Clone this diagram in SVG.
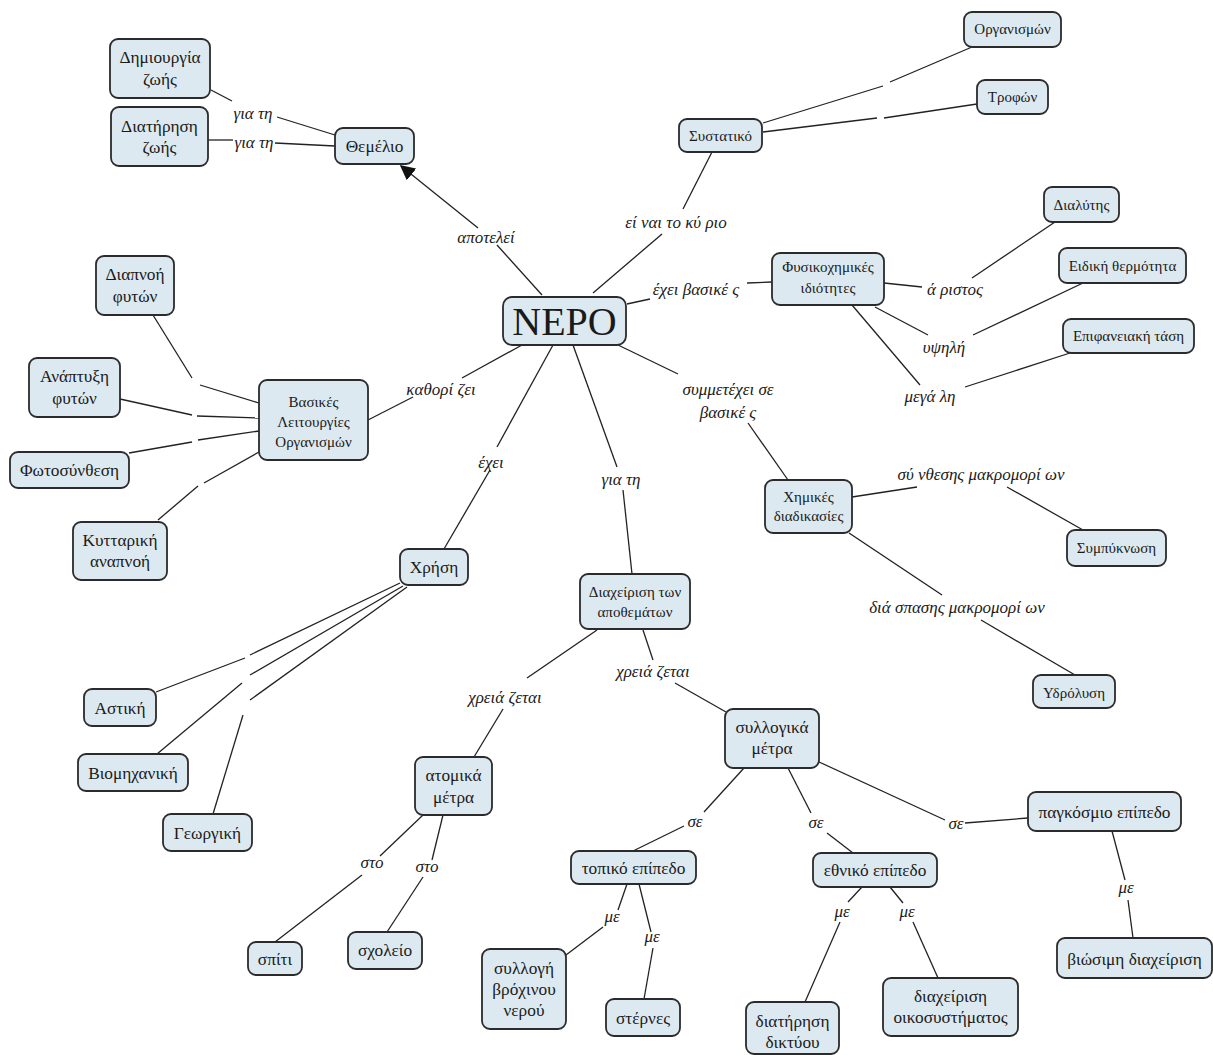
<svg xmlns="http://www.w3.org/2000/svg" width="1213" height="1055" viewBox="0 0 1213 1055">
<style>
.n rect{fill:#dde9f0;stroke:#2b2b2b;stroke-width:1.8}
.n text{font-family:"Liberation Serif",serif;font-size:15px;fill:#1a1a1a;text-anchor:middle}
.n.b text{font-size:17.3px}
.l{font-family:"Liberation Serif",serif;font-size:17px;font-style:italic;fill:#1a1a1a;text-anchor:middle}
#connectors line{stroke:#222;stroke-width:1.3}
</style>
<defs>
<marker id="arr" viewBox="0 0 10 10" refX="9" refY="5" markerWidth="15" markerHeight="15" markerUnits="userSpaceOnUse" orient="auto">
<path d="M0,0 L10,5 L0,10 z" fill="#111"/>
</marker>
</defs>
<rect width="1213" height="1055" fill="#fff"/>
<g id="connectors">
<line x1="542" y1="295" x2="497" y2="245"/>
<line x1="478" y1="228" x2="401" y2="166" marker-end="url(#arr)"/>
<line x1="335" y1="135" x2="277" y2="117"/>
<line x1="232" y1="101" x2="211" y2="90"/>
<line x1="335" y1="146" x2="275" y2="143"/>
<line x1="233" y1="140" x2="208" y2="140"/>
<line x1="593" y1="293" x2="662" y2="234"/>
<line x1="683" y1="209" x2="712" y2="152"/>
<line x1="763" y1="123" x2="883" y2="86"/>
<line x1="890" y1="82" x2="972" y2="47"/>
<line x1="763" y1="132" x2="877" y2="118"/>
<line x1="884" y1="118" x2="977" y2="104"/>
<line x1="627" y1="304" x2="650" y2="299"/>
<line x1="747" y1="283" x2="772" y2="282"/>
<line x1="884" y1="283" x2="922" y2="287"/>
<line x1="972" y1="278" x2="1055" y2="222"/>
<line x1="875" y1="307" x2="928" y2="335"/>
<line x1="973" y1="335" x2="1083" y2="283"/>
<line x1="852" y1="305" x2="920" y2="385"/>
<line x1="965" y1="387" x2="1070" y2="353"/>
<line x1="522" y1="345" x2="462" y2="378"/>
<line x1="413" y1="397" x2="368" y2="420"/>
<line x1="153" y1="315" x2="192" y2="378"/>
<line x1="200" y1="385" x2="259" y2="403"/>
<line x1="120" y1="399" x2="192" y2="415"/>
<line x1="197" y1="416" x2="259" y2="418"/>
<line x1="129" y1="453" x2="192" y2="442"/>
<line x1="198" y1="440" x2="259" y2="431"/>
<line x1="158" y1="520" x2="198" y2="486"/>
<line x1="204" y1="483" x2="259" y2="452"/>
<line x1="553" y1="345" x2="497" y2="447"/>
<line x1="490" y1="470" x2="444" y2="549"/>
<line x1="400" y1="583" x2="250" y2="655"/>
<line x1="245" y1="658" x2="156" y2="692"/>
<line x1="403" y1="586" x2="250" y2="675"/>
<line x1="242" y1="683" x2="157" y2="754"/>
<line x1="407" y1="587" x2="250" y2="700"/>
<line x1="243" y1="715" x2="213" y2="814"/>
<line x1="573" y1="345" x2="617" y2="467"/>
<line x1="623" y1="490" x2="632" y2="574"/>
<line x1="597" y1="630" x2="527" y2="678"/>
<line x1="503" y1="709" x2="474" y2="757"/>
<line x1="643" y1="630" x2="653" y2="660"/>
<line x1="675" y1="683" x2="726" y2="712"/>
<line x1="423" y1="815" x2="380" y2="856"/>
<line x1="362" y1="875" x2="275" y2="942"/>
<line x1="443" y1="815" x2="432" y2="860"/>
<line x1="423" y1="877" x2="387" y2="932"/>
<line x1="744" y1="768" x2="704" y2="812"/>
<line x1="684" y1="826" x2="633" y2="851"/>
<line x1="788" y1="768" x2="811" y2="813"/>
<line x1="827" y1="833" x2="853" y2="853"/>
<line x1="819" y1="762" x2="945" y2="820"/>
<line x1="965" y1="823" x2="1028" y2="818"/>
<line x1="1112" y1="831" x2="1125" y2="880"/>
<line x1="1128" y1="900" x2="1133" y2="938"/>
<line x1="862" y1="887" x2="848" y2="902"/>
<line x1="840" y1="922" x2="805" y2="1002"/>
<line x1="890" y1="887" x2="903" y2="903"/>
<line x1="913" y1="922" x2="938" y2="978"/>
<line x1="627" y1="884" x2="618" y2="910"/>
<line x1="603" y1="927" x2="566" y2="955"/>
<line x1="639" y1="884" x2="651" y2="932"/>
<line x1="653" y1="948" x2="644" y2="999"/>
<line x1="618" y1="345" x2="678" y2="374"/>
<line x1="748" y1="423" x2="788" y2="480"/>
<line x1="852" y1="497" x2="917" y2="487"/>
<line x1="1007" y1="487" x2="1083" y2="530"/>
<line x1="849" y1="533" x2="942" y2="595"/>
<line x1="981" y1="620" x2="1075" y2="675"/>
</g>
<g id="labels">
<text class="l" x="253" y="119">για τη</text>
<text class="l" x="254" y="148">για τη</text>
<text class="l" x="486" y="243">αποτελεί</text>
<text class="l" x="676" y="228">εί ναι το κύ ριο</text>
<text class="l" x="696" y="295">έχει βασικέ ς</text>
<text class="l" x="441" y="395">καθορί ζει</text>
<text class="l" x="491" y="468">έχει</text>
<text class="l" x="621" y="485">για τη</text>
<text class="l" x="728" y="395">συμμετέχει σε</text>
<text class="l" x="728" y="418">βασικέ ς</text>
<text class="l" x="955" y="295">ά ριστος</text>
<text class="l" x="944" y="353">υψηλή</text>
<text class="l" x="930" y="402">μεγά λη</text>
<text class="l" x="981" y="480">σύ νθεσης μακρομορί ων</text>
<text class="l" x="957" y="613">διά σπασης μακρομορί ων</text>
<text class="l" x="505" y="703">χρειά ζεται</text>
<text class="l" x="653" y="677">χρειά ζεται</text>
<text class="l" x="372" y="868">στο</text>
<text class="l" x="427" y="872">στο</text>
<text class="l" x="695" y="827">σε</text>
<text class="l" x="816" y="828">σε</text>
<text class="l" x="956" y="829">σε</text>
<text class="l" x="1126" y="893">με</text>
<text class="l" x="842" y="917">με</text>
<text class="l" x="907" y="917">με</text>
<text class="l" x="612" y="922">με</text>
<text class="l" x="652" y="942">με</text>
</g>
<g id="n-nero" class="n"><rect x="503" y="297" width="123" height="48" rx="9"/><text x="564.5" y="335" style="font-size:40px">ΝΕΡΟ</text></g>
<g id="n-themelio" class="n b"><rect x="335" y="128" width="79" height="36" rx="8"/><text x="374.5" y="152">Θεμέλιο</text></g>
<g id="n-dimiourgia" class="n b"><rect x="110" y="39" width="100" height="59" rx="8"/><text x="160" y="63">Δημιουργία</text><text x="160" y="85">ζωής</text></g>
<g id="n-diatirisi" class="n b"><rect x="111" y="107" width="97" height="59" rx="8"/><text x="159.5" y="132">Διατήρηση</text><text x="159.5" y="153">ζωής</text></g>
<g id="n-systatiko" class="n"><rect x="679" y="119" width="83" height="33" rx="8"/><text x="720.5" y="141">Συστατικό</text></g>
<g id="n-organismon" class="n"><rect x="964" y="12" width="97" height="35" rx="8"/><text x="1012.5" y="34">Οργανισμών</text></g>
<g id="n-trofon" class="n"><rect x="977" y="80" width="71" height="34" rx="8"/><text x="1012.5" y="102">Τροφών</text></g>
<g id="n-dialytis" class="n"><rect x="1044" y="187" width="75" height="35" rx="8"/><text x="1081.5" y="210">Διαλύτης</text></g>
<g id="n-eidiki" class="n"><rect x="1059" y="248" width="127" height="35" rx="8"/><text x="1122.5" y="271">Ειδική θερμότητα</text></g>
<g id="n-epifaneiaki" class="n"><rect x="1063" y="319" width="131" height="34" rx="8"/><text x="1128.5" y="341">Επιφανειακή τάση</text></g>
<g id="n-fysikoximikes" class="n"><rect x="772" y="253" width="112" height="52" rx="8"/><text x="828" y="272">Φυσικοχημικές</text><text x="828" y="293">ιδιότητες</text></g>
<g id="n-vasikes" class="n"><rect x="259" y="380" width="109" height="80" rx="8"/><text x="313.5" y="407">Βασικές</text><text x="313.5" y="427">Λειτουργίες</text><text x="313.5" y="447">Οργανισμών</text></g>
<g id="n-diapnoi" class="n b"><rect x="96" y="256" width="78" height="59" rx="8"/><text x="135" y="280">Διαπνοή</text><text x="135" y="302">φυτών</text></g>
<g id="n-anaptyxi" class="n b"><rect x="29" y="358" width="91" height="59" rx="8"/><text x="74.5" y="382">Ανάπτυξη</text><text x="74.5" y="404">φυτών</text></g>
<g id="n-fotosynthesi" class="n b"><rect x="10" y="452" width="119" height="36" rx="8"/><text x="69.5" y="476">Φωτοσύνθεση</text></g>
<g id="n-kyttariki" class="n b"><rect x="73" y="522" width="94" height="58" rx="8"/><text x="120" y="546">Κυτταρική</text><text x="120" y="567">αναπνοή</text></g>
<g id="n-xrisi" class="n b"><rect x="400" y="549" width="68" height="36" rx="8"/><text x="434" y="573">Χρήση</text></g>
<g id="n-diaxeirisi" class="n"><rect x="580" y="574" width="110" height="55" rx="8"/><text x="635" y="597">Διαχείριση των</text><text x="635" y="617">αποθεμάτων</text></g>
<g id="n-syllogika" class="n b"><rect x="725" y="709" width="94" height="59" rx="8"/><text x="772" y="733">συλλογικά</text><text x="772" y="754">μέτρα</text></g>
<g id="n-atomika" class="n b"><rect x="415" y="757" width="77" height="58" rx="8"/><text x="453.5" y="781">ατομικά</text><text x="453.5" y="803">μέτρα</text></g>
<g id="n-astiki" class="n b"><rect x="84" y="689" width="72" height="37" rx="8"/><text x="120" y="714">Αστική</text></g>
<g id="n-viomixaniki" class="n b"><rect x="78" y="754" width="110" height="37" rx="8"/><text x="133" y="779">Βιομηχανική</text></g>
<g id="n-georgiki" class="n b"><rect x="163" y="814" width="89" height="37" rx="8"/><text x="207.5" y="839">Γεωργική</text></g>
<g id="n-spiti" class="n b"><rect x="248" y="942" width="54" height="33" rx="8"/><text x="275" y="965">σπίτι</text></g>
<g id="n-sxoleio" class="n b"><rect x="348" y="932" width="74" height="37" rx="8"/><text x="385" y="956">σχολείο</text></g>
<g id="n-topiko" class="n b"><rect x="571" y="851" width="125" height="33" rx="8"/><text x="633.5" y="874">τοπικό επίπεδο</text></g>
<g id="n-syllogi" class="n b"><rect x="482" y="949" width="84" height="80" rx="8"/><text x="524" y="974">συλλογή</text><text x="524" y="995">βρόχινου</text><text x="524" y="1016">νερού</text></g>
<g id="n-sternes" class="n b"><rect x="606" y="999" width="74" height="37" rx="8"/><text x="643" y="1024">στέρνες</text></g>
<g id="n-ethniko" class="n b"><rect x="813" y="853" width="124" height="34" rx="8"/><text x="875" y="876">εθνικό επίπεδο</text></g>
<g id="n-pagkosmio" class="n b"><rect x="1028" y="792" width="153" height="39" rx="8"/><text x="1104.5" y="818">παγκόσμιο επίπεδο</text></g>
<g id="n-viosimi" class="n b"><rect x="1057" y="938" width="155" height="40" rx="8"/><text x="1134.5" y="965">βιώσιμη διαχείριση</text></g>
<g id="n-diatirisi-diktyou" class="n b"><rect x="746" y="1002" width="93" height="52" rx="8"/><text x="792.5" y="1027">διατήρηση</text><text x="792.5" y="1048">δικτύου</text></g>
<g id="n-oikosystima" class="n b"><rect x="883" y="978" width="135" height="58" rx="8"/><text x="950.5" y="1002">διαχείριση</text><text x="950.5" y="1023">οικοσυστήματος</text></g>
<g id="n-ximikes" class="n"><rect x="765" y="480" width="87" height="53" rx="8"/><text x="808.5" y="502">Χημικές</text><text x="808.5" y="521">διαδικασίες</text></g>
<g id="n-sympyknosi" class="n"><rect x="1067" y="530" width="99" height="36" rx="8"/><text x="1116.5" y="553">Συμπύκνωση</text></g>
<g id="n-ydrolysi" class="n"><rect x="1033" y="675" width="82" height="33" rx="8"/><text x="1074" y="698">Υδρόλυση</text></g>
</svg>
